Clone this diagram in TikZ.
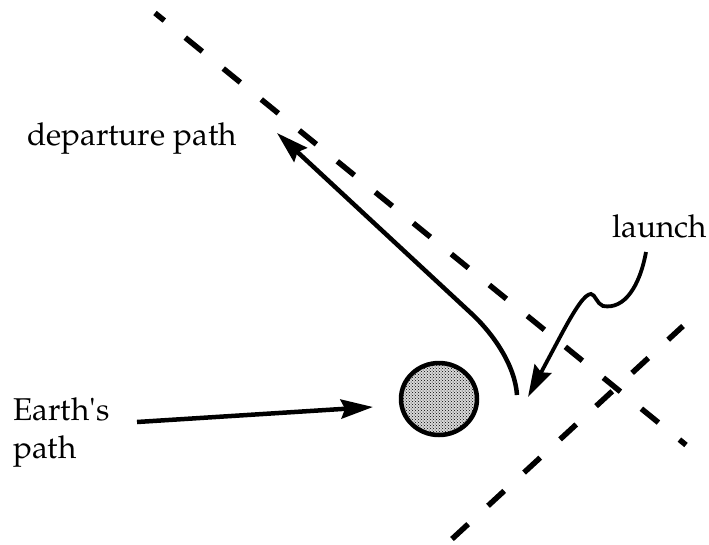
\documentclass[tikz,border=0pt]{standalone}
\usepackage{fontspec}
\setmainfont{TeX Gyre Pagella}
\usetikzlibrary{arrows.meta,shapes.geometric,patterns}
\begin{document}
\begin{tikzpicture}[x=1pt,y=-1pt,
  lbl/.style={inner sep=0pt,font=\fontsize{31.5}{38}\selectfont},
  solidline/.style={line width=4.5pt},
  guide/.style={line width=5.5pt,dash pattern=on 22pt off 27pt},
  tipend/.style={-{Stealth[length=32pt,width=19pt,inset=4pt]}}]
\useasboundingbox (0,0) rectangle (709,544);
% guide lines (dashed)
\coordinate (d1a) at (155,13);
\coordinate (d1b) at (686,445);
\coordinate (d2a) at (452,539);
\coordinate (d2b) at (683,326);
\draw[guide,dash phase=10pt] (d1a) -- (d1b);
\draw[guide] (d2a) -- (d2b);
% Earth
\node[ellipse,draw,line width=4.5pt,minimum width=76pt,minimum height=72pt,inner sep=0pt,
      preaction={fill=gray!30},pattern=crosshatch dots] (earth) at (439,399) {};
% labels
\node[lbl,anchor=base west] (dep) at (27,145) {departure path};
\node[lbl,anchor=base west] (launch) at (612,237) {launch};
\node[lbl,anchor=north west,align=left] (ep) at (13,397) {Earth\textquotesingle s\\path};
% Earth's path arrow
\coordinate (ea) at (137,422);
\coordinate (eb) at (373,407);
\draw[solidline,tipend] (ea) -- (eb);
% departure path
\coordinate (p0) at (517,395);
\coordinate (p1) at (473,315);
\coordinate (p2) at (277,133);
\draw[solidline,tipend] (p0) .. controls (515,365) and (493,334) .. (p1) -- (p2);
% launch squiggle
\coordinate (l0) at (646,252);
\coordinate (l4) at (528,397);
\draw[line width=3.8pt,tipend] (l0) .. controls (640,285) and (625,310) .. (603,306)
   .. controls (597,304) and (595,294) .. (591,294)
   .. controls (585,294) and (576,307) .. (560,337) -- (l4);
\end{tikzpicture}
\end{document}
